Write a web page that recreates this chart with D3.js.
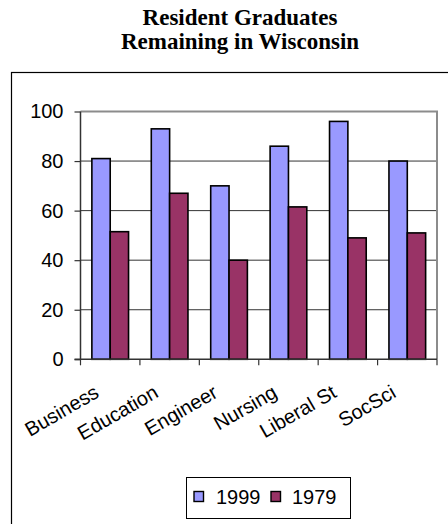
<!DOCTYPE html>
<html><head><meta charset="utf-8">
<script src="https://cdn.jsdelivr.net/npm/d3@7"></script>
<style>body{margin:0;background:#fff}svg{display:block}</style>
</head><body>
<svg id="c" width="448" height="524"></svg>
<script>
const categories = ["Business","Education","Engineer","Nursing","Liberal St","SocSci"];
const seriesNames = ["1999","1979"];
const values1999 = [81, 93, 70, 86, 96, 80];
const values1979 = [51.5, 67, 40, 61.5, 49, 51];
const yTicks = [0,20,40,60,80,100];
const colors = ["#9999FF","#993366"];
const titleLines = ["Resident Graduates","Remaining in Wisconsin"];

const svg = d3.select("#c");
const series = [values1999, values1979];

// outer chart border
svg.append("rect").attr("x",11.5).attr("y",72.5).attr("width",460).attr("height",480)
  .attr("fill","none").attr("stroke","#000").attr("stroke-width",1.2);

// title
svg.append("g").selectAll("text").data(titleLines).join("text")
  .attr("x",240).attr("y",(d,i)=>25+i*23.5)
  .attr("text-anchor","middle")
  .attr("font-family","'Liberation Serif','Times New Roman',serif")
  .attr("font-weight","bold").attr("font-size",23)
  .text(d=>d);

const L=80.5, R=437, T=111.5, B=359.3;
const x = d3.scaleBand().domain(categories).range([L,R]).paddingInner(0).paddingOuter(0);
const y = d3.scaleLinear().domain([0,100]).range([B,T]);
const inner = d3.scaleBand().domain(seriesNames).range([0,x.bandwidth()]).paddingInner(0).paddingOuter(0.62);

// gridlines
svg.append("g").selectAll("line").data(yTicks.filter(t=>t>0 && t<100)).join("line")
  .attr("x1",L).attr("x2",R).attr("y1",d=>y(d)).attr("y2",d=>y(d))
  .attr("stroke","#333").attr("stroke-width",1);

// plot border top/right (gray)
svg.append("path").attr("d",`M${L},${T}H${R}V${B}`).attr("fill","none")
  .attr("stroke","#8c8c8c").attr("stroke-width",2);

// bars
const g = svg.append("g");
categories.forEach((c,ci)=>{
  series.forEach((s,si)=>{
    g.append("rect")
      .attr("x",x(c)+inner(seriesNames[si]))
      .attr("y",y(s[ci]))
      .attr("width",inner.bandwidth())
      .attr("height",B-y(s[ci]))
      .attr("fill",colors[si]).attr("stroke","#000").attr("stroke-width",1.6);
  });
});

// y axis
const yAxis = d3.axisLeft(y).tickValues(yTicks).tickSize(6).tickPadding(11);
const ya = svg.append("g").attr("transform",`translate(${L},0)`).call(yAxis);
ya.select(".domain").attr("stroke","#333").attr("stroke-width",1.5).attr("d",`M0,${T}V${B}`);
ya.selectAll(".tick line").attr("stroke","#333").attr("stroke-width",1.2);
ya.selectAll("text").attr("font-family","'Liberation Sans',Arial,sans-serif").attr("font-size",20).attr("fill","#000");

// x axis
const xa = svg.append("g").attr("transform",`translate(0,${B})`);
xa.append("line").attr("x1",L-6).attr("x2",R).attr("stroke","#333").attr("stroke-width",1.5);
const tickPos = categories.map(c=>x(c)).concat([R]);
xa.selectAll("line.tk").data(tickPos).join("line").attr("class","tk")
  .attr("x1",d=>d).attr("x2",d=>d).attr("y1",0).attr("y2",6)
  .attr("stroke","#333").attr("stroke-width",1.2);
xa.selectAll("text").data(categories).join("text")
  .attr("transform",d=>`translate(${x(d)+x.bandwidth()/2-10},37) rotate(-30)`)
  .attr("text-anchor","end")
  .attr("font-family","'Liberation Sans',Arial,sans-serif").attr("font-size",20)
  .text(d=>d);

// legend
const lg = svg.append("g");
lg.append("rect").attr("x",186.5).attr("y",477.5).attr("width",164).attr("height",41)
  .attr("fill","#fff").attr("stroke","#000").attr("stroke-width",1);
const lx = [194, 271], tx=[216, 292];
seriesNames.forEach((n,i)=>{
  lg.append("rect").attr("x",lx[i]).attr("y",491.5).attr("width",9.5).attr("height",10)
    .attr("fill",colors[i]).attr("stroke","#000").attr("stroke-width",1.4);
  lg.append("text").attr("x",tx[i]).attr("y",503.5)
    .attr("font-family","'Liberation Sans',Arial,sans-serif").attr("font-size",20)
    .text(n);
});
</script>
</body></html>
